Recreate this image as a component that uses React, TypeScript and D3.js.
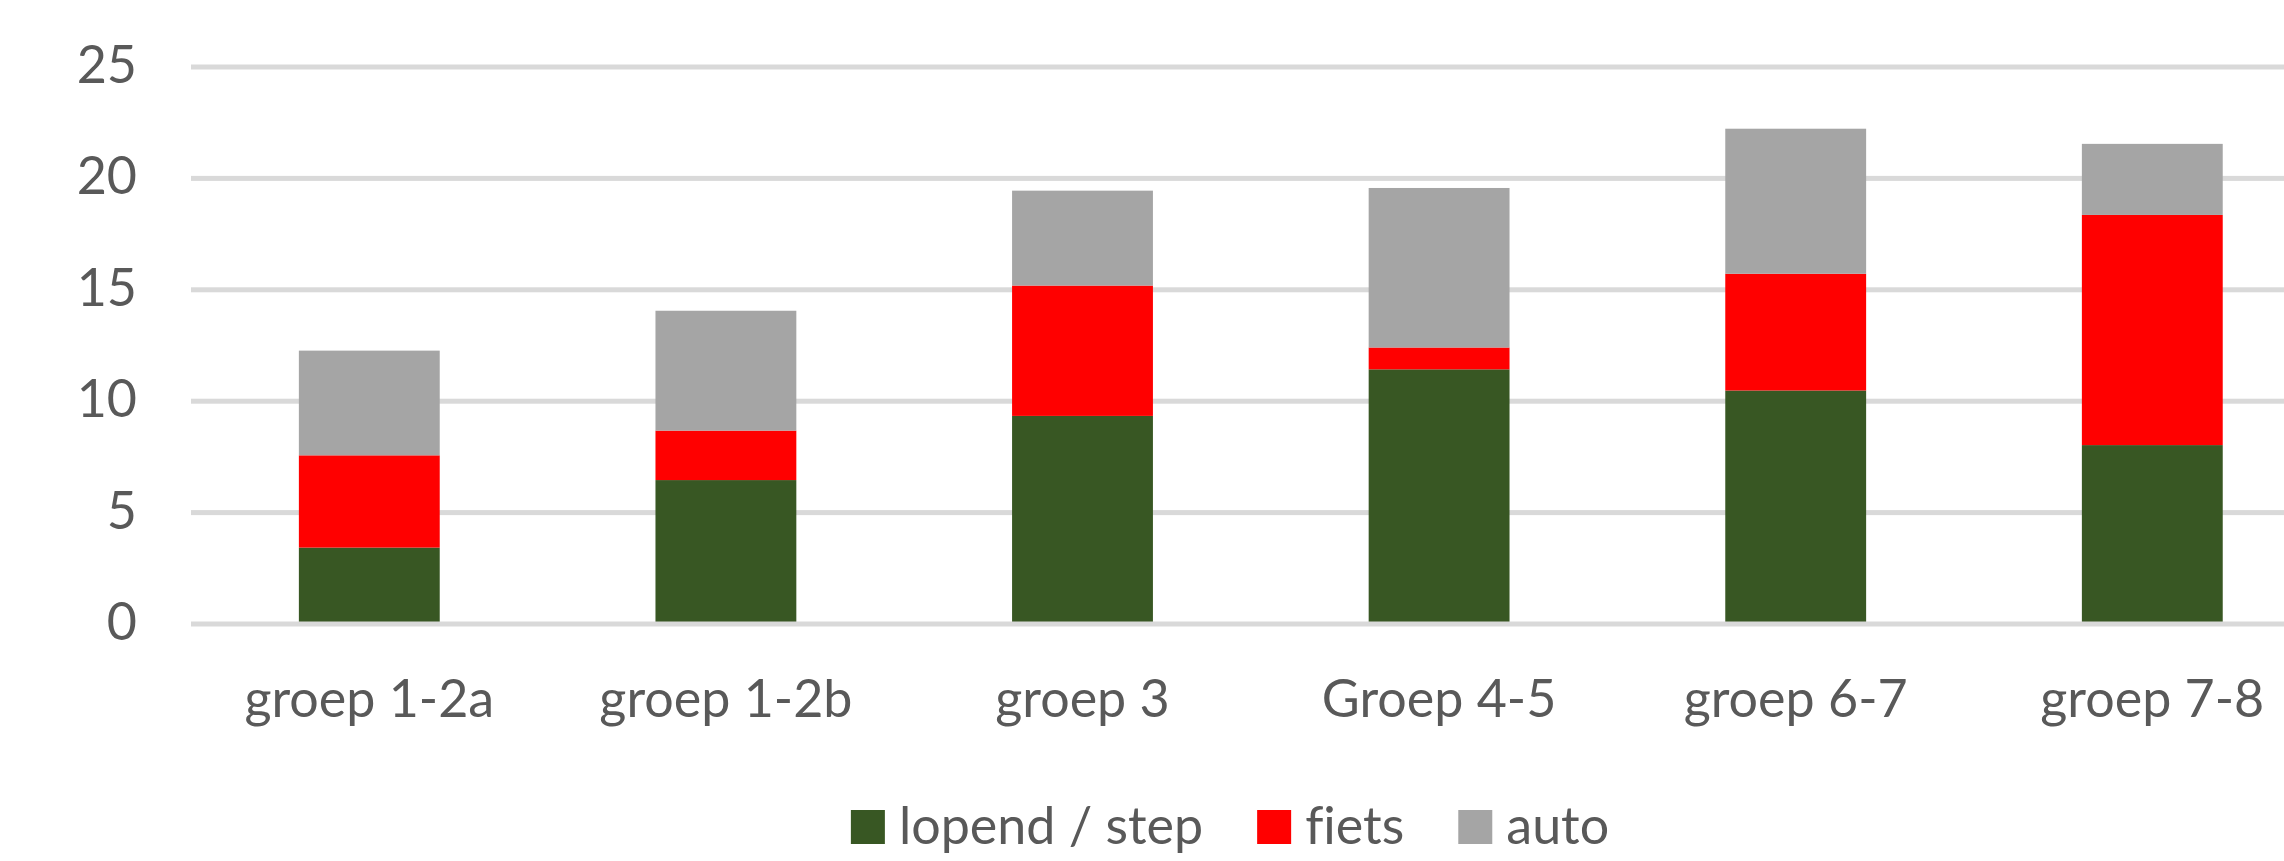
import React, { useEffect, useRef } from "react";
import * as d3 from "d3";

const categories = ["groep 1-2a", "groep 1-2b", "groep 3", "Groep 4-5", "groep 6-7", "groep 7-8"];
const seriesNames = ["lopend / step", "fiets", "auto"];
const lopend = [3.43, 6.46, 9.34, 11.43, 10.48, 8.03];
const fiets = [4.14, 2.22, 5.85, 0.98, 5.24, 10.33];
const auto = [4.7, 5.38, 4.26, 7.16, 6.51, 3.19];
const yTicks = [0, 5, 10, 15, 20, 25];
const colors = ["#385723", "#FF0000", "#A5A5A5"];

const W = 2284;
const H = 861;
const FONT = "Lato, 'Open Sans', sans-serif";

export default function App() {
  const ref = useRef<SVGSVGElement | null>(null);

  useEffect(() => {
    const svg = d3.select(ref.current);
    svg.selectAll("*").remove();
    svg.style("font-variant-ligatures", "none");

    const x = d3
      .scaleBand<string>()
      .domain(categories)
      .range([191, 191 + 6 * 356.6])
      .paddingInner(0.605)
      .paddingOuter(0.3025);
    const y = d3.scaleLinear().domain([0, 25]).range([624, 67]);

    const rows = categories.map((c, i) => ({ cat: c, lopend: lopend[i], fiets: fiets[i], auto: auto[i] }));
    const stack = d3.stack<any>().keys(["lopend", "fiets", "auto"]);
    const stacked = stack(rows);

    // gridlines
    svg
      .append("g")
      .selectAll("rect")
      .data(yTicks.filter((t) => t !== 0))
      .join("rect")
      .attr("x", 191)
      .attr("width", W - 191)
      .attr("y", (d) => y(d) - 2.5)
      .attr("height", 5)
      .attr("fill", "#D9D9D9");

    // bars
    svg
      .append("g")
      .selectAll("g")
      .data(stacked)
      .join("g")
      .attr("fill", (_d, i) => colors[i])
      .selectAll("rect")
      .data((d) => d)
      .join("rect")
      .attr("x", (d: any) => x(d.data.cat)!)
      .attr("width", x.bandwidth())
      .attr("y", (d) => y(d[1]))
      .attr("height", (d) => y(d[0]) - y(d[1]));

    // zero axis line
    svg
      .append("rect")
      .attr("x", 191)
      .attr("width", W - 191)
      .attr("y", y(0) - 2.5)
      .attr("height", 5)
      .attr("fill", "#D9D9D9");

    // y tick labels
    svg
      .append("g")
      .selectAll("text")
      .data(yTicks)
      .join("text")
      .attr("x", 137)
      .attr("y", (d) => y(d) + 16)
      .attr("text-anchor", "end")
      .attr("font-family", FONT)
      .attr("font-size", 52)
      .attr("fill", "#595959")
      .text((d) => String(d));

    // x labels
    svg
      .append("g")
      .selectAll("text")
      .data(categories)
      .join("text")
      .attr("x", (d) => x(d)! + x.bandwidth() / 2)
      .attr("y", 717)
      .attr("text-anchor", "middle")
      .attr("font-family", FONT)
      .attr("font-size", 52)
      .attr("fill", "#595959")
      .text((d) => d);

    // legend
    const lg = svg.append("g");
    const items = seriesNames.map((name, i) => {
      const g = lg.append("g");
      g.append("rect").attr("x", 0).attr("y", 810).attr("width", 34).attr("height", 34).attr("fill", colors[i]);
      const t = g
        .append("text")
        .attr("x", 48)
        .attr("y", 844)
        .attr("font-family", FONT)
        .attr("font-size", 52)
        .attr("fill", "#595959")
        .text(name);
      const tw = (t.node() as SVGTextElement).getComputedTextLength();
      return { g, w: 48 + tw };
    });
    const gap = 54;
    const total = items.reduce((s, it) => s + it.w, 0) + gap * (items.length - 1);
    let cx = 1230 - total / 2;
    items.forEach((it) => {
      it.g.attr("transform", `translate(${cx},0)`);
      cx += it.w + gap;
    });
  }, []);

  return (
    <svg
      ref={ref}
      width={W}
      height={H}
      style={{ display: "block", position: "absolute", left: 0, top: 0, background: "#fff" }}
    />
  );
}
